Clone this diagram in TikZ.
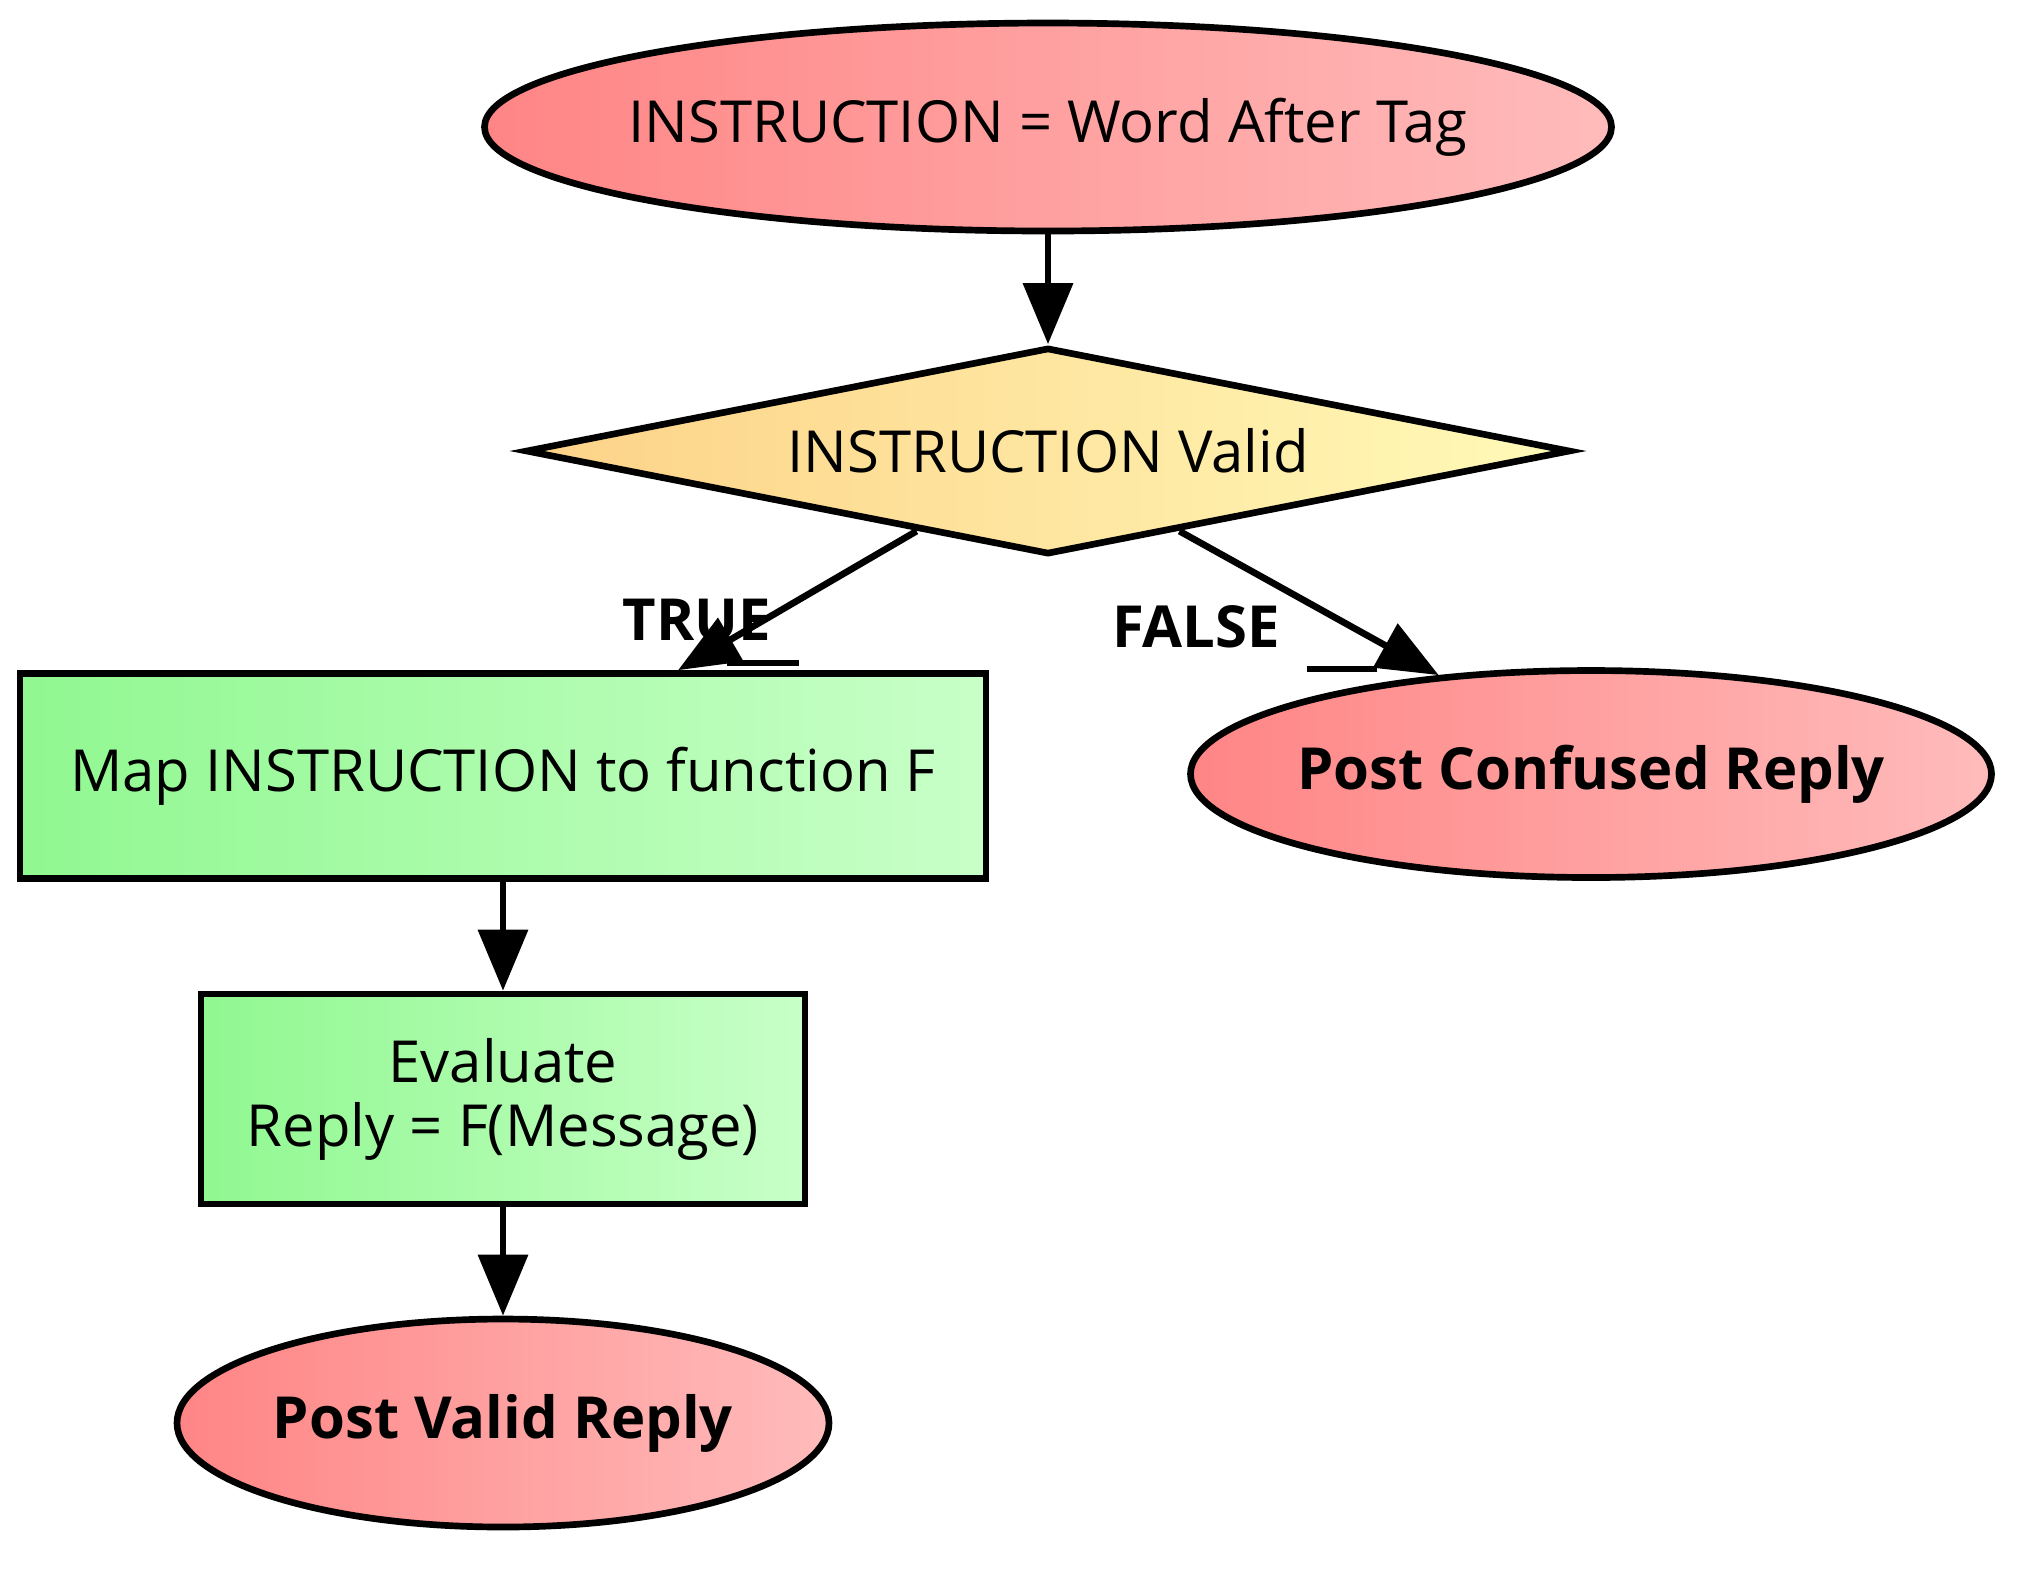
\documentclass[tikz,border=0pt]{standalone}
\usepackage{fontspec}
\setmainfont{Open Sans}
\usetikzlibrary{calc}
\usetikzlibrary{positioning}
\usetikzlibrary{shapes.geometric}
\usetikzlibrary{arrows.meta}

\definecolor{endleft}{HTML}{FF8585}
\definecolor{endright}{HTML}{FFBBBB}
\definecolor{stepleft}{HTML}{90F890}
\definecolor{stepright}{HTML}{C8FFC8}
\definecolor{askleft}{HTML}{FDD288}
\definecolor{askright}{HTML}{FFFAB8}

\begin{document}
\begin{tikzpicture}[x=0.1mm, y=-0.1mm,
    every node/.style={font=\fontsize{16.5}{18.2}\selectfont, inner sep=0pt},
    endnode/.style={ellipse, draw, line width=1.9pt, inner xsep=-10mm, left color=endleft, right color=endright},
    stepnode/.style={rectangle, draw, line width=1.9pt, left color=stepleft, right color=stepright, align=center},
    asknode/.style={diamond, aspect=5.05, inner xsep=-10mm, draw, line width=1.9pt, left color=askleft, right color=askright},
    flow/.style={line width=1.9pt, -{Triangle[length=6.1mm, width=4.9mm]}}
  ]
  \useasboundingbox (0,0) rectangle (2042,1579);

  \node[endnode, minimum width=112.7mm, minimum height=20.8mm] (instr) at (1048,127)
    {INSTRUCTION = Word After Tag};
  \node[asknode, minimum width=104.5mm, minimum height=20.7mm] (valid) at (1048,451)
    {INSTRUCTION Valid};
  \node[stepnode, minimum width=96.6mm, minimum height=20.5mm] (mapfn) at (503,776)
    {Map INSTRUCTION to function F};
  \node[stepnode, minimum width=60.4mm, minimum height=21mm] (evalrep) at (503,1099)
    {Evaluate\\Reply = F(Message)};
  \node[endnode, minimum width=65.2mm, minimum height=20.8mm] (validrep) at (503,1423)
    {\bfseries Post Valid Reply};
  \node[endnode, minimum width=80.1mm, minimum height=20.7mm] (confrep) at (1591,774)
    {\bfseries Post Confused Reply};

  % branch labels
  \node (truelbl) at (697,620) {\bfseries TRUE};
  \node (falselbl) at (1196,627) {\bfseries FALSE};
  \coordinate (trueA) at (727,663);
  \coordinate (trueB) at (799,663);
  \coordinate (falseA) at (1307,669);
  \coordinate (falseB) at (1377,669);

  \draw[flow] (instr.south) -- (valid.north);
  \draw[flow] ($(valid.west)!0.75!(valid.south)$) -- ($(mapfn.north west)!0.68!(mapfn.north east)$);
  \draw[flow] ($(valid.south)!0.25!(valid.east)$) -- (confrep.147);
  \draw[flow] (mapfn.south) -- (evalrep.north);
  \draw[flow] (evalrep.south) -- (validrep.north);

  \draw[line width=1.9pt] (trueA) -- (trueB);
  \draw[line width=1.9pt] (falseA) -- (falseB);
\end{tikzpicture}
\end{document}
